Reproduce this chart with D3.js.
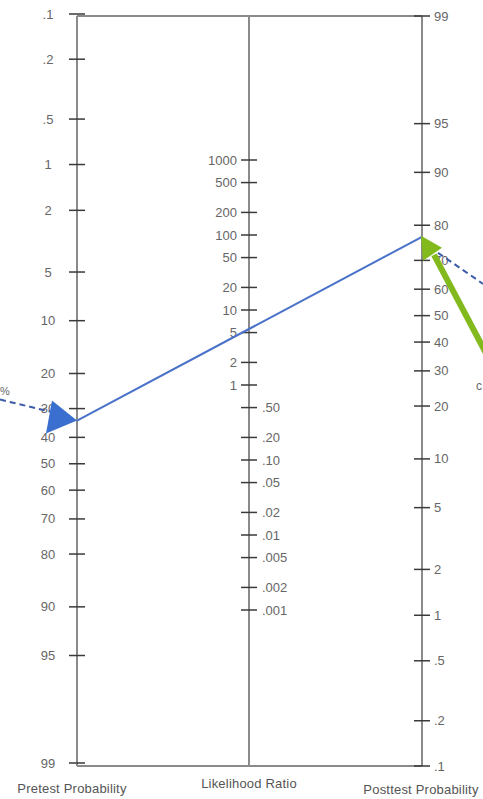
<!DOCTYPE html>
<html>
<head>
<meta charset="utf-8">
<script src="https://cdn.jsdelivr.net/npm/d3@7"></script>
<style>
  body { margin: 0; background: #fff; }
  svg { display: block; font-family: "Liberation Sans", Arial, sans-serif; }
</style>
</head>
<body>
<div class="nomo"></div>
<script>
// Fagan nomogram
const width = 483;
const height = 799;

// Graduations (en %)
const pretestTicks = [0.1, 0.2, 0.5, 1, 2, 5, 10, 20, 30, 40, 50, 60, 70, 80, 90, 95, 99];
const pretestLabels = ['.1', '.2', '.5', '1', '2', '5', '10', '20', '30', '40', '50', '60', '70', '80', '90', '95', '99'];
const posttestTicks = [99, 95, 90, 80, 70, 60, 50, 40, 30, 20, 10, 5, 2, 1, 0.5, 0.2, 0.1];
const posttestLabels = ['99', '95', '90', '80', '70', '60', '50', '40', '30', '20', '10', '5', '2', '1', '.5', '.2', '.1'];
const lrTicks = [1000, 500, 200, 100, 50, 20, 10, 5, 2, 1, 0.5, 0.2, 0.1, 0.05, 0.02, 0.01, 0.005, 0.002, 0.001];
const lrLabels = ['1000', '500', '200', '100', '50', '20', '10', '5', '2', '1', '.50', '.20', '.10', '.05', '.02', '.01', '.005', '.002', '.001'];
const axisTitles = ['Pretest Probability', 'Likelihood Ratio', 'Posttest Probability'];

// Exemple tracé
const pretest = 34;
const posttest = 77;

const logit = p => Math.log((p / 100) / (1 - p / 100));

const xLeft = 77, xMid = 249, xRight = 422;
const yTop = 16, yBottom = 766;

const svg = d3.select('.nomo')
  .append('svg')
  .attr('width', width)
  .attr('height', height);

// Echelles
const preScale = d3.scaleLinear()
  .domain([logit(0.1), logit(99)])
  .range([14, 763]);
const postScale = d3.scaleLinear()
  .domain([logit(99), logit(0.1)])
  .range([yTop, yBottom]);
const lrScale = d3.scaleLog()
  .domain([1000, 0.001])
  .range([160, 610]);

// Cadre et axes
const frame = svg.append('g').attr('stroke', '#8a8a8a').attr('stroke-width', 2);
frame.append('line').attr('x1', xLeft).attr('x2', xRight).attr('y1', yTop).attr('y2', yTop);
frame.append('line').attr('x1', xLeft).attr('x2', xRight).attr('y1', yBottom).attr('y2', yBottom);
[xLeft, xMid, xRight].forEach(x => {
  frame.append('line').attr('x1', x).attr('x2', x).attr('y1', yTop).attr('y2', yBottom);
});

function drawTicks(values, labels, x, yFn, side) {
  const g = svg.append('g');
  g.selectAll('line')
    .data(values)
    .join('line')
      .attr('x1', x - 8).attr('x2', x + 8)
      .attr('y1', d => yFn(d)).attr('y2', d => yFn(d))
      .attr('stroke', '#3a3a3a').attr('stroke-width', 1.5);
  g.selectAll('text')
    .data(values)
    .join('text')
      .attr('x', (d, i) => side(d).x)
      .attr('y', d => yFn(d))
      .attr('dy', '0.35em')
      .attr('text-anchor', d => side(d).anchor)
      .attr('font-size', 13)
      .attr('fill', '#666')
      .text((d, i) => labels[i]);
}

drawTicks(pretestTicks, pretestLabels, xLeft, d => preScale(logit(d)), () => ({ x: 48, anchor: 'middle' }));
drawTicks(posttestTicks, posttestLabels, xRight, d => postScale(logit(d)), () => ({ x: 434, anchor: 'start' }));
drawTicks(lrTicks, lrLabels, xMid, d => lrScale(d),
  d => d >= 1 ? { x: 237, anchor: 'end' } : { x: 262, anchor: 'start' });

// Titres
svg.append('g')
  .selectAll('text')
  .data(axisTitles)
  .join('text')
    .attr('x', (d, i) => [72, 249, 421][i])
    .attr('y', (d, i) => [793, 788, 794][i])
    .attr('text-anchor', 'middle')
    .attr('font-size', 13)
    .attr('fill', '#555')
    .attr('letter-spacing', 0.2)
    .text(d => d);

// Ligne pré -> post
const yPre = preScale(logit(pretest));
const yPost = postScale(logit(posttest));
svg.append('line')
  .attr('x1', xLeft).attr('y1', yPre)
  .attr('x2', xRight).attr('y2', yPost)
  .attr('stroke', '#4a72c8').attr('stroke-width', 2);

// Annotations (coupées par le cadrage)
svg.append('text')
  .attr('x', 0).attr('y', 395)
  .attr('font-size', 11).attr('fill', '#666')
  .text('%');
svg.append('line')
  .attr('x1', 0).attr('y1', yPre - 21)
  .attr('x2', xLeft - 27).attr('y2', yPre - 9)
  .attr('stroke', '#3b5aa8').attr('stroke-width', 2)
  .attr('stroke-dasharray', '6,4');
svg.append('path')
  .attr('d', `M${xLeft},${yPre} L${xLeft - 25},${yPre - 20} L${xLeft - 31},${yPre + 13} Z`)
  .attr('fill', '#3a6fd0');

svg.append('line')
  .attr('x1', xRight + 16).attr('y1', yPost + 16)
  .attr('x2', width).attr('y2', yPost + 47)
  .attr('stroke', '#3b5aa8').attr('stroke-width', 2)
  .attr('stroke-dasharray', '6,4');
svg.append('text')
  .attr('x', 476).attr('y', 390)
  .attr('font-size', 12).attr('fill', '#666')
  .text('c');

svg.append('line')
  .attr('x1', xRight + 12).attr('y1', yPost + 18)
  .attr('x2', width + 6).attr('y2', yPost + 122)
  .attr('stroke', '#82ba1e').attr('stroke-width', 6);
svg.append('path')
  .attr('d', `M${xRight - 1},${yPost - 1} L${xRight + 1},${yPost + 24} L${xRight + 20},${yPost + 11} Z`)
  .attr('fill', '#82ba1e');
</script>
</body>
</html>
